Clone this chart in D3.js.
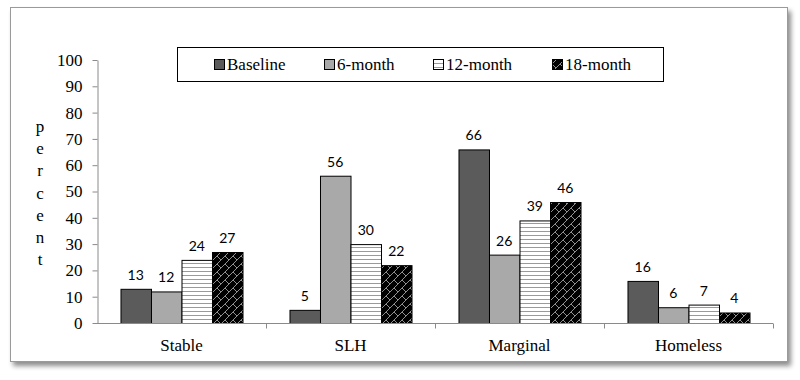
<!DOCTYPE html>
<html>
<head>
<meta charset="utf-8">
<script src="https://cdn.jsdelivr.net/npm/d3@7"></script>
<style>
  html, body { margin: 0; padding: 0; background: #fff; }
  svg { display: block; }
</style>
</head>
<body>
<div id="chart"></div>
<script>
// data
const categories = ['Stable', 'SLH', 'Marginal', 'Homeless'];
const seriesNames = ['Baseline', '6-month', '12-month', '18-month'];
const baseline = [13, 5, 66, 16];
const month6   = [12, 56, 26, 6];
const month12  = [24, 30, 39, 7];
const month18  = [27, 22, 46, 4];
const yTicks   = [0, 10, 20, 30, 40, 50, 60, 70, 80, 90, 100];

const seriesValues = [baseline, month6, month12, month18];
const width = 800, height = 380;
const plot = { left: 97, right: 773, top: 60, bottom: 323 };
const serif = '"Liberation Serif", "Times New Roman", serif';

const svg = d3.select('#chart').append('svg')
  .attr('width', width).attr('height', height);

const defs = svg.append('defs');

// frame shadow
const shadow = defs.append('filter').attr('id', 'shadow')
  .attr('x', '-5%').attr('y', '-5%').attr('width', '110%').attr('height', '115%');
shadow.append('feGaussianBlur').attr('in', 'SourceAlpha').attr('stdDeviation', 2.5);
shadow.append('feOffset').attr('dx', 3).attr('dy', 4).attr('result', 'off');
shadow.append('feComponentTransfer').append('feFuncA').attr('type', 'linear').attr('slope', 0.45);
const merge = shadow.append('feMerge');
merge.append('feMergeNode');
merge.append('feMergeNode').attr('in', 'SourceGraphic');

// 12-month: horizontal stripes
const stripes = defs.append('pattern').attr('id', 'pat-stripes')
  .attr('patternUnits', 'userSpaceOnUse').attr('width', 8).attr('height', 4);
stripes.append('rect').attr('width', 8).attr('height', 4).attr('fill', '#fff');
stripes.append('line').attr('x1', 0).attr('x2', 8).attr('y1', 3.5).attr('y2', 3.5)
  .attr('stroke', '#9a9a9a').attr('stroke-width', 1);

// 18-month: black with diagonal brick lines
const brick = defs.append('pattern').attr('id', 'pat-brick')
  .attr('patternUnits', 'userSpaceOnUse').attr('width', 8).attr('height', 8);
brick.append('rect').attr('width', 8).attr('height', 8).attr('fill', '#000');
brick.append('path')
  .attr('d', 'M-1,9 L9,-1 M-1,1 L1,-1 M7,9 L9,7 M-1,-1 L4,4')
  .attr('stroke', '#909090').attr('stroke-width', 1).attr('fill', 'none');

const fills = ['#5b5b5b', '#a9a9a9', 'url(#pat-stripes)', 'url(#pat-brick)'];

// frame
svg.append('rect')
  .attr('x', 10.5).attr('y', 7.5).attr('width', 777).attr('height', 354)
  .attr('fill', '#fff').attr('stroke', '#9a9a9a').attr('stroke-width', 1)
  .attr('filter', 'url(#shadow)');

const x0 = d3.scaleBand().domain(categories).range([plot.left, plot.right])
  .paddingInner(0).paddingOuter(0);
const x1 = d3.scaleBand().domain(seriesNames).range([0, x0.bandwidth()])
  .paddingInner(0).paddingOuter(0.77);
const y = d3.scaleLinear().domain([0, 100]).range([plot.bottom, plot.top]);

// y axis
const yAxis = svg.append('g')
  .attr('transform', `translate(${plot.left + 0.5},0)`)
  .call(d3.axisLeft(y).tickValues(yTicks).tickSize(5).tickSizeOuter(0).tickPadding(10));
yAxis.select('.domain').attr('stroke', '#8a8a8a');
yAxis.selectAll('.tick line').attr('stroke', '#8a8a8a');
yAxis.selectAll('.tick text')
  .attr('font-family', serif)
  .attr('font-size', 17).attr('fill', '#000');

// y label, stacked letters
const yLabel = 'percent'.split('');
svg.append('g').selectAll('text').data(yLabel).join('text')
  .attr('x', 40).attr('y', (d, i) => 132 + i * 22.2)
  .attr('text-anchor', 'middle')
  .attr('font-family', serif)
  .attr('font-size', 17).attr('fill', '#000')
  .text(d => d);

// bars
const groups = svg.append('g').selectAll('g').data(categories).join('g')
  .attr('transform', d => `translate(${x0(d)},0)`);

groups.each(function(cat, ci) {
  const g = d3.select(this);
  const rows = seriesNames.map((s, si) => ({ s, si, v: seriesValues[si][ci] }));
  g.selectAll('rect').data(rows).join('rect')
    .attr('x', d => x1(d.s) + 0.5)
    .attr('y', d => y(d.v) + 0.5)
    .attr('width', x1.bandwidth())
    .attr('height', d => y(0) - y(d.v))
    .attr('fill', d => fills[d.si])
    .attr('stroke', '#000').attr('stroke-width', 1);
  g.selectAll('text').data(rows).join('text')
    .attr('x', d => x1(d.s) + x1.bandwidth() / 2)
    .attr('y', d => y(d.v) - 9)
    .attr('text-anchor', 'middle')
    .attr('font-family', 'Lato, "Open Sans", sans-serif')
    .attr('font-size', 14).attr('fill', '#000')
    .text(d => d.v);
});

// x axis
const xAxisG = svg.append('g').attr('transform', `translate(0,${plot.bottom + 0.5})`);
xAxisG.append('line').attr('x1', plot.left).attr('x2', plot.right)
  .attr('stroke', '#8a8a8a');
const boundaries = categories.map(c => x0(c) + x0.bandwidth());
xAxisG.selectAll('.xt').data(boundaries).join('line')
  .attr('class', 'xt')
  .attr('x1', d => Math.round(d) + 0.5).attr('x2', d => Math.round(d) + 0.5)
  .attr('y1', 0).attr('y2', 5).attr('stroke', '#8a8a8a');
xAxisG.selectAll('text').data(categories).join('text')
  .attr('x', d => x0(d) + x0.bandwidth() / 2)
  .attr('y', 27)
  .attr('text-anchor', 'middle')
  .attr('font-family', serif)
  .attr('font-size', 17).attr('fill', '#000')
  .text(d => d);

// legend
const legend = svg.append('g');
legend.append('rect')
  .attr('x', 177.5).attr('y', 47.5).attr('width', 486).attr('height', 34)
  .attr('fill', '#fff').attr('stroke', '#000').attr('stroke-width', 1);
const legendX = [214, 324, 433, 552];
const items = legend.selectAll('g').data(seriesNames).join('g')
  .attr('transform', (d, i) => `translate(${legendX[i]},0)`);
items.append('rect')
  .attr('x', 0.5).attr('y', 59.5).attr('width', 10).attr('height', 10)
  .attr('fill', (d, i) => fills[i]).attr('stroke', '#000').attr('stroke-width', 1);
items.append('text')
  .attr('x', 13).attr('y', 70)
  .attr('font-family', serif)
  .attr('font-size', 17).attr('fill', '#000')
  .text(d => d);
</script>
</body>
</html>
